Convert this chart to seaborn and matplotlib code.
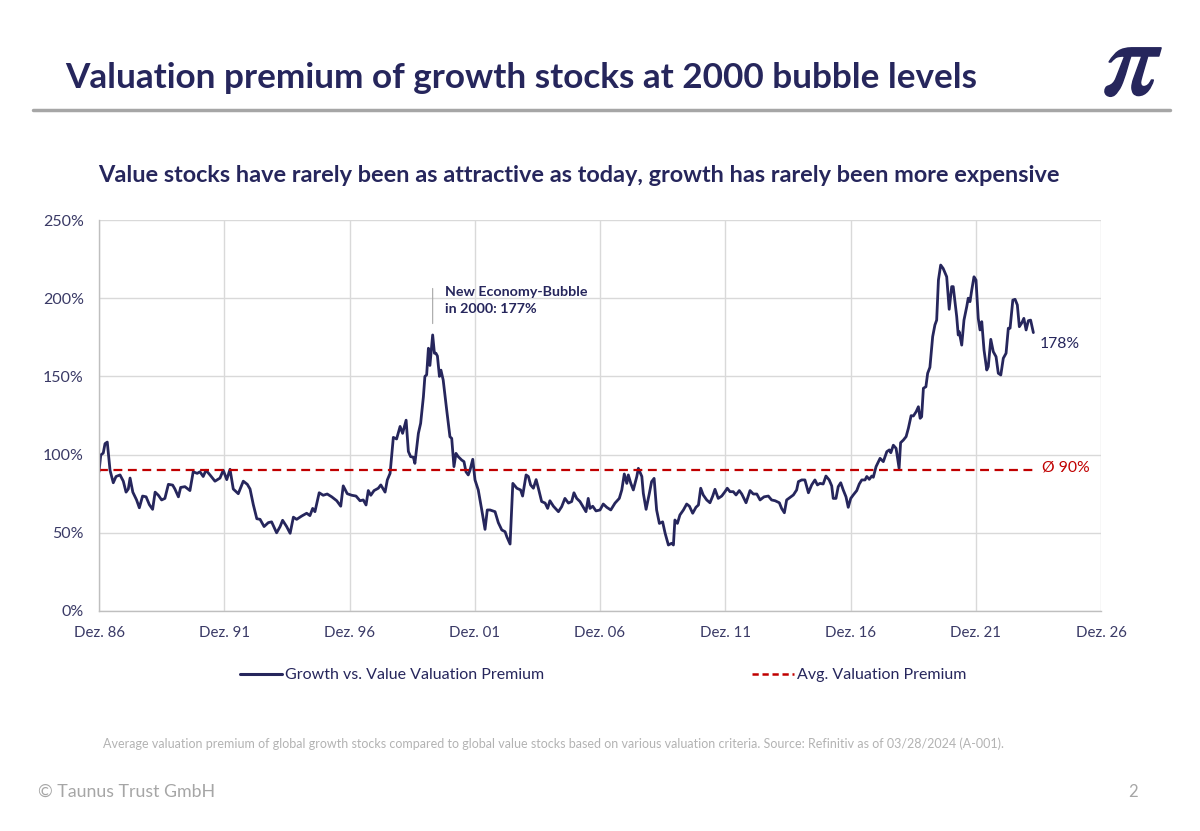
import matplotlib
matplotlib.use("Agg")
import matplotlib.pyplot as plt
import matplotlib.patheffects as pe
import seaborn as sns
import pandas as pd
from matplotlib.lines import Line2D

# ---------------- data ----------------
dates = [1986.92, 1986.99, 1987.09, 1987.16, 1987.25, 1987.36, 1987.49, 1987.60, 1987.76, 1987.89,
         1988.00, 1988.09, 1988.16, 1988.27, 1988.42, 1988.53, 1988.66, 1988.80, 1988.93, 1989.06,
         1989.16, 1989.29, 1989.42, 1989.55, 1989.69, 1989.86, 1989.95, 1990.09, 1990.18, 1990.35,
         1990.55, 1990.68, 1990.84, 1990.95, 1991.08, 1991.19, 1991.35, 1991.55, 1991.75, 1991.88,
         1992.02, 1992.15, 1992.28, 1992.48, 1992.68, 1992.84, 1992.95, 1993.08, 1993.22, 1993.35,
         1993.51, 1993.68, 1993.81, 1994.01, 1994.15, 1994.25, 1994.41, 1994.55, 1994.68, 1994.81,
         1995.01, 1995.21, 1995.34, 1995.45, 1995.54, 1995.71, 1995.87, 1996.03, 1996.21, 1996.41,
         1996.57, 1996.67, 1996.83, 1997.01, 1997.18, 1997.34, 1997.47, 1997.58, 1997.67, 1997.77,
         1997.90, 1998.07, 1998.17, 1998.34, 1998.43, 1998.54, 1998.67, 1998.80, 1998.94, 1999.04,
         1999.18, 1999.27, 1999.36, 1999.47, 1999.53, 1999.67, 1999.76, 1999.87, 1999.93, 2000.00,
         2000.07, 2000.13, 2000.20, 2000.24, 2000.31, 2000.37, 2000.43, 2000.51, 2000.57, 2000.66,
         2000.80, 2000.93, 2001.00, 2001.09, 2001.17, 2001.26, 2001.40, 2001.49, 2001.57, 2001.66,
         2001.73, 2001.84, 2001.93, 2002.06, 2002.20, 2002.33, 2002.42, 2002.53, 2002.73, 2002.86,
         2003.00, 2003.13, 2003.20, 2003.33, 2003.44, 2003.60, 2003.75, 2003.83, 2003.97, 2004.06,
         2004.15, 2004.26, 2004.37, 2004.46, 2004.59, 2004.73, 2004.83, 2004.92, 2005.06, 2005.26,
         2005.39, 2005.52, 2005.66, 2005.79, 2005.88, 2005.99, 2006.12, 2006.23, 2006.36, 2006.45,
         2006.52, 2006.63, 2006.76, 2006.92, 2007.05, 2007.19, 2007.35, 2007.52, 2007.69, 2007.79,
         2007.89, 2007.99, 2008.05, 2008.15, 2008.25, 2008.39, 2008.45, 2008.59, 2008.65, 2008.76,
         2008.89, 2008.98, 2009.08, 2009.18, 2009.29, 2009.42, 2009.52, 2009.65, 2009.78, 2009.85,
         2009.91, 2010.01, 2010.11, 2010.25, 2010.38, 2010.49, 2010.62, 2010.75, 2010.85, 2010.94,
         2011.04, 2011.18, 2011.31, 2011.42, 2011.51, 2011.64, 2011.78, 2011.91, 2012.00, 2012.11,
         2012.24, 2012.35, 2012.48, 2012.58, 2012.75, 2012.91, 2013.04, 2013.18, 2013.31, 2013.47,
         2013.64, 2013.77, 2013.91, 2014.08, 2014.17, 2014.28, 2014.37, 2014.51, 2014.64, 2014.77,
         2014.84, 2014.97, 2015.10, 2015.24, 2015.37, 2015.50, 2015.60, 2015.70, 2015.83, 2015.94,
         2016.07, 2016.17, 2016.23, 2016.34, 2016.43, 2016.53, 2016.63, 2016.74, 2016.83, 2016.93,
         2017.03, 2017.17, 2017.27, 2017.37, 2017.50, 2017.57, 2017.67, 2017.77, 2017.83, 2017.94,
         2018.10, 2018.23, 2018.37, 2018.47, 2018.53, 2018.63, 2018.74, 2018.86, 2018.92, 2019.03,
         2019.14, 2019.23, 2019.34, 2019.43, 2019.54, 2019.63, 2019.70, 2019.76, 2019.83, 2019.93,
         2020.00, 2020.09, 2020.20, 2020.29, 2020.36, 2020.43, 2020.52, 2020.62, 2020.76, 2020.86,
         2020.96, 2021.02, 2021.16, 2021.22, 2021.26, 2021.36, 2021.45, 2021.56, 2021.62, 2021.69,
         2021.76, 2021.85, 2021.93, 2022.02, 2022.09, 2022.16, 2022.25, 2022.36, 2022.42, 2022.52,
         2022.62, 2022.73, 2022.82, 2022.92, 2023.02, 2023.13, 2023.22, 2023.29, 2023.40, 2023.49,
         2023.58, 2023.66, 2023.75, 2023.84, 2023.93, 2024.02, 2024.11, 2024.22]

premium = [89, 99.7, 101, 107, 108, 90, 82, 86, 87, 83,
           76, 78, 85, 76, 71, 66, 73.5, 73, 68, 65,
           76, 74, 71, 72, 81, 80.5, 78, 73, 79, 79.5,
           77, 89, 88, 89, 86, 90, 87, 83, 85, 90,
           84, 90.6, 78, 75, 83, 81, 78, 68, 59, 58.6,
           54, 56.5, 57, 50, 54, 58, 54, 49.7, 60, 58.6,
           60.7, 62.5, 61, 65.6, 63.5, 75.6, 74, 74.8, 73, 70.5,
           67, 80, 75, 74, 73.5, 70.5, 71, 67.8, 77, 74,
           77, 78.5, 80.6, 76, 83.8, 88, 111, 110, 118, 113.6,
           122, 102, 98.7, 98.3, 94.4, 113.6, 120, 137, 150, 151,
           168, 157, 169, 176.5, 164.8, 164.8, 163, 150, 154, 147.7,
           128.5, 111.4, 110.4, 92.3, 100.8, 98.7, 96.5, 95.5, 89, 87,
           90, 97, 83.8, 77.4, 64.6, 52.2, 64.6, 64.6, 63.5, 56.5,
           51.8, 50.7, 47.5, 42.8, 81.6, 78.5, 77.4, 73.5, 87, 86,
           80.6, 78.5, 84, 78.5, 70, 69, 65.6, 70.5, 67, 63.5,
           66.7, 72, 69, 70, 75.6, 72, 70, 67, 63.5, 72,
           65.6, 67, 64, 64.6, 68.4, 66.3, 64.6, 69, 72, 77.4,
           87.6, 81.6, 87, 81.6, 77.4, 86, 91.2, 86, 75.2, 65,
           75.2, 82.7, 84.8, 64.6, 56, 57, 49.7, 42.2, 43.3, 42.2,
           58.2, 56, 61.4, 64.6, 68.4, 67, 62.5, 66.3, 67.8, 78.5,
           74.2, 71, 69.2, 73.5, 77.8, 72, 73.5, 76.3, 78.5, 76.3,
           76.3, 74.2, 77, 74.8, 69.2, 77, 74.8, 74.8, 71, 73,
           73.5, 71, 70.5, 69.2, 65.6, 62.8, 71, 72.7, 74.2, 77.4,
           82.7, 83.8, 83.8, 75.6, 80.6, 83.8, 80.6, 81.6, 81.2, 86.3,
           83.8, 80, 72, 72, 79.5, 82, 77.4, 73, 66.3, 72,
           74.2, 77, 81.2, 83.8, 83.8, 86, 84.2, 86.3, 85.5, 92.3,
           97.6, 95.5, 101.9, 103, 101.2, 106, 104, 91.2, 107.6, 109.3,
           111.5, 116.8, 124.9, 124.7, 127.4, 130.6, 123.2, 124.2, 142.4, 143.4,
           152, 155.8, 175.4, 182.9, 186, 211.6, 221.2, 219, 213.7, 192.9,
           207.4, 207.4, 188.2, 176.5, 178.6, 170, 186, 194.6, 200, 197.8,
           205.2, 213.7, 211.6, 187.1, 179.7, 185, 166.9, 154.1, 156.2, 173.7,
           165.8, 162.6, 152, 150.9, 161.6, 164.8, 180.8, 180.8, 198.8, 199.3,
           195.7, 181.8, 184, 187.1, 179.7, 185.6, 186, 178]

avg_premium = 90
avg_label = "Ø 90%"
last_label = "178%"
bubble_date = 2000.24
bubble_label = "New Economy-Bubble\nin 2000: 177%"

x_tick_pos = [1986.92, 1991.92, 1996.92, 2001.92, 2006.92, 2011.92, 2016.92, 2021.92, 2026.92]
x_tick_labels = ["Dez. 86", "Dez. 91", "Dez. 96", "Dez. 01", "Dez. 06", "Dez. 11", "Dez. 16", "Dez. 21", "Dez. 26"]
y_ticks = [0, 50, 100, 150, 200, 250]

series_name = "Growth vs. Value Valuation Premium"
avg_name = "Avg. Valuation Premium"

df = pd.DataFrame({"date": dates, "premium": premium})
df_avg = pd.DataFrame({"date": [dates[0], dates[-1]], "premium": [avg_premium, avg_premium]})

# ---------------- style ----------------
NAVY = "#26265c"
TICK_NAVY = "#3a3a66"
RED = "#c00000"
GRID = "#d9d9d9"

sns.set_theme(style="white")
plt.rcParams["font.family"] = ["Lato", "DejaVu Sans"]
plt.rcParams["mathtext.fontset"] = "stix"

fig = plt.figure(figsize=(12, 8.31), dpi=100)
ax = fig.add_axes([99 / 1200, 1 - 611 / 831, 1002 / 1200, 391 / 831])

sns.lineplot(data=df, x="date", y="premium", ax=ax, color=NAVY, linewidth=2.0, legend=False)
sns.lineplot(data=df_avg, x="date", y="premium", ax=ax, color=RED, linewidth=1.6,
             linestyle=(0, (4, 2.5)), legend=False)

ax.set_xlim(x_tick_pos[0], x_tick_pos[-1])
ax.set_ylim(0, 250)
ax.set_xticks(x_tick_pos)
ax.set_xticklabels(x_tick_labels)
ax.set_yticks(y_ticks)
ax.set_yticklabels([f"{v}%" for v in y_ticks])
ax.set_xlabel("")
ax.set_ylabel("")
ax.grid(True, color=GRID, linewidth=1.0)
ax.set_axisbelow(True)
for s in ["top", "right"]:
    ax.spines[s].set_visible(False)
for s in ["left", "bottom"]:
    ax.spines[s].set_color("#bfbfbf")
    ax.spines[s].set_linewidth(1.0)
ax.tick_params(axis="both", which="both", direction="out", length=5, width=1,
               color="#bfbfbf", labelcolor=TICK_NAVY, pad=6)
ax.tick_params(axis="y", labelsize=11.5)
ax.tick_params(axis="x", labelsize=10.8)

# annotations
ax.annotate("", xy=(bubble_date, 182), xytext=(bubble_date, 208),
            arrowprops=dict(arrowstyle="-", color="#a6a6a6", lw=0.8))
ax.text(bubble_date + 0.5, 208, bubble_label, color=NAVY, fontsize=10.3, fontweight="bold",
        va="top", ha="left", linespacing=1.5)
ax.text(dates[-1] + 0.25, premium[-1] - 7, last_label, color=NAVY, fontsize=11.3, ha="left", va="center")
ax.text(dates[-1] + 0.35, avg_premium + 1.5, avg_label, color=RED, fontsize=11.3, ha="left", va="center")

# header
fig.text(65 / 1200, 1 - 78 / 831, "Valuation premium of growth stocks at 2000 bubble levels",
         color=NAVY, fontsize=25.3, fontweight="bold", ha="left", va="center")
fig.text(1133 / 1200, 1 - 64 / 831, r"$\pi$", color=NAVY, fontsize=78,
         ha="center", va="center",
         path_effects=[pe.withStroke(linewidth=1.2, foreground=NAVY)])
fig.add_artist(Line2D([33 / 1200, 1170 / 1200], [1 - 110 / 831, 1 - 110 / 831],
                      color="#a6a6a6", linewidth=2.5))
fig.text(98 / 1200, 1 - 176 / 831,
         "Value stocks have rarely been as attractive as today, growth has rarely been more expensive",
         color=NAVY, fontsize=16.9, fontweight="bold", ha="left", va="center")

# legends
h1 = [Line2D([], [], color=NAVY, linewidth=2.2)]
h2 = [Line2D([], [], color=RED, linewidth=1.8, linestyle=(0, (2.5, 1.5)))]
fig.legend(h1, [series_name], loc="center left", bbox_to_anchor=(226 / 1200, 1 - 675 / 831),
           frameon=False, fontsize=11.5, handlelength=2.6, handletextpad=0.2, labelcolor=NAVY)
fig.legend(h2, [avg_name], loc="center left", bbox_to_anchor=(738 / 1200, 1 - 675 / 831),
           frameon=False, fontsize=11.5, handlelength=2.6, handletextpad=0.2, labelcolor=NAVY)

# footnotes
fig.text(103 / 1200, 1 - 744 / 831,
         "Average valuation premium of global growth stocks compared to global value stocks based on various valuation criteria. Source: Refinitiv as of 03/28/2024 (A-001).",
         color="#b3b3b3", fontsize=9.0, ha="left", va="center")
fig.text(38 / 1200, 1 - 792 / 831, "© Taunus Trust GmbH", color="#a6a6a6", fontsize=12.8,
         ha="left", va="center")
fig.text(1133 / 1200, 1 - 792 / 831, "2", color="#a6a6a6", fontsize=12, ha="center", va="center")

fig.savefig("out.png", dpi=100, facecolor="white")
